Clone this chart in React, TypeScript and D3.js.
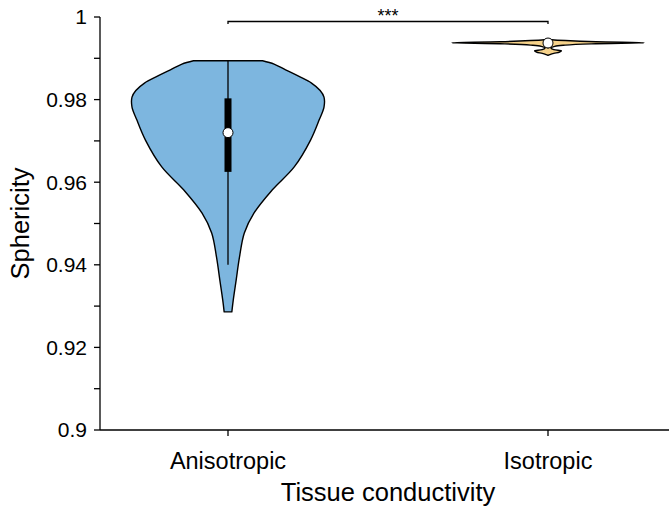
import React from "react";
import * as d3 from "d3";

const categories = ["Anisotropic", "Isotropic"];
const colors = ["#7db6df", "#f6d28a"];

// violin profiles: value and relative density (1 = widest)
const anisoValues = [0.9894, 0.9886, 0.9872, 0.9856, 0.984, 0.9822, 0.9806, 0.9782, 0.9751, 0.9702, 0.9637, 0.9581, 0.9525, 0.9477, 0.9419, 0.9363, 0.9315, 0.9286];
const anisoDensity = [0.36, 0.48, 0.6, 0.74, 0.87, 0.96, 1.0, 1.0, 0.95, 0.86, 0.69, 0.46, 0.27, 0.17, 0.12, 0.085, 0.055, 0.04];
const isoValues = [0.9946, 0.9945, 0.9943, 0.994, 0.99375, 0.9935, 0.9932, 0.9929, 0.9925, 0.9921, 0.9918, 0.9915, 0.9912, 0.9909, 0.9907];
const isoDensity = [0, 0.04, 0.18, 0.5, 1.0, 0.45, 0.18, 0.07, 0.03, 0.06, 0.14, 0.12, 0.06, 0.02, 0];

const medians = [0.972, 0.9937];
const q1s = [0.9625, 0.9934];
const q3s = [0.9803, 0.994];
const whiskerLows = [0.94, 0.9924];
const whiskerHighs = [0.9894, 0.9943];

const yTickValues = [0.9, 0.92, 0.94, 0.96, 0.98, 1];
const yTickLabels = ["0.9", "0.92", "0.94", "0.96", "0.98", "1"];
const yMinorTicks = [0.91, 0.93, 0.95, 0.97, 0.99];

const W = 669;
const H = 506;
const axisLeft = 100;
const axisRight = 669;
const yTop = 17;
const yBottom = 430;
const maxHalf = 96;

export default function App() {
  const y = d3.scaleLinear().domain([0.9, 1]).range([yBottom, yTop]);
  const x = d3.scalePoint<string>().domain(categories).range([228, 548]);
  const wScale = d3.scaleLinear().domain([0, 1]).range([0, maxHalf]);

  const profiles = [
    anisoValues.map((v, i) => ({ v, d: anisoDensity[i] })),
    isoValues.map((v, i) => ({ v, d: isoDensity[i] })),
  ];

  const font = "Liberation Sans, Arial, sans-serif";

  return (
    <svg width={W} height={H} style={{ position: "absolute", left: 0, top: 0, background: "#fff" }} fontFamily={font}>
      {categories.map((c, i) => {
        const cx = x(c)!;
        const area = d3
          .area<{ v: number; d: number }>()
          .y((p) => y(p.v))
          .x0((p) => cx - wScale(p.d))
          .x1((p) => cx + wScale(p.d))
          .curve(d3.curveCatmullRom);
        return (
          <g key={c}>
            <path d={area(profiles[i]) || ""} fill={colors[i]} stroke="#000" strokeWidth={1.4} strokeLinejoin="round" />
            <line x1={cx} x2={cx} y1={y(whiskerHighs[i])} y2={y(whiskerLows[i])} stroke="#000" strokeWidth={1.3} />
            <rect x={cx - 3.5} width={7} y={y(q3s[i])} height={Math.max(1, y(q1s[i]) - y(q3s[i]))} fill="#000" />
            <circle cx={cx} cy={y(medians[i])} r={5} fill="#fff" stroke="#000" strokeWidth={1} />
          </g>
        );
      })}

      {/* significance bracket */}
      <path
        d={`M${x(categories[0])},${yTop + 7} V${yTop + 4.5} H${x(categories[1])} V${yTop + 7}`}
        fill="none"
        stroke="#000"
        strokeWidth={1.3}
      />
      <text x={(x(categories[0])! + x(categories[1])!) / 2} y={yTop + 5} textAnchor="middle" fontSize={18}>
        ***
      </text>

      {/* y axis */}
      <line x1={axisLeft} x2={axisLeft} y1={yTop} y2={yBottom} stroke="#000" strokeWidth={1.3} />
      {yTickValues.map((t, i) => (
        <g key={"t" + i}>
          <line x1={axisLeft - 6} x2={axisLeft} y1={y(t)} y2={y(t)} stroke="#000" strokeWidth={1.3} />
          <text x={axisLeft - 13} y={y(t)} dy="0.35em" textAnchor="end" fontSize={21}>
            {yTickLabels[i]}
          </text>
        </g>
      ))}
      {yMinorTicks.map((t, i) => (
        <line key={"m" + i} x1={axisLeft - 6} x2={axisLeft} y1={y(t)} y2={y(t)} stroke="#000" strokeWidth={1.3} />
      ))}

      {/* x axis */}
      <line x1={axisLeft} x2={axisRight} y1={yBottom} y2={yBottom} stroke="#000" strokeWidth={1.3} />
      {categories.map((c) => (
        <g key={"x" + c}>
          <line x1={x(c)} x2={x(c)} y1={yBottom} y2={yBottom + 6} stroke="#000" strokeWidth={1.3} />
          <text x={x(c)} y={yBottom + 39} textAnchor="middle" fontSize={23.5}>
            {c}
          </text>
        </g>
      ))}

      <text x={388} y={yBottom + 71} textAnchor="middle" fontSize={25.5}>
        Tissue conductivity
      </text>
      <text transform={`translate(29, ${(yTop + yBottom) / 2}) rotate(-90)`} textAnchor="middle" fontSize={25.5}>
        Sphericity
      </text>
    </svg>
  );
}
